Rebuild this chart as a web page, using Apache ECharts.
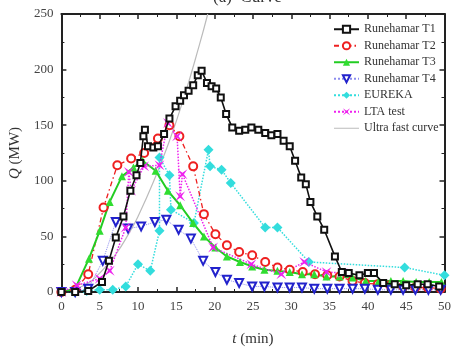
<!DOCTYPE html>
<html><head><meta charset="utf-8">
<script src="https://cdn.jsdelivr.net/npm/echarts@6/dist/echarts.min.js"></script>
<style>html,body{margin:0;padding:0;background:#fff}#c{width:454px;height:352px}</style>
</head><body><div id="c"></div>
<script>
// ---- data ----
var xTicks = [0,5,10,15,20,25,30,35,40,45,50];
var yTicks = [0,50,100,150,200,250];

var t1T = [0,1.8,3.5,5.3,6.2,7.1,8.1,9,9.8,10.3,10.7,10.9,11.3,12,12.6,13.4,14.1,14.9,15.5,16,16.6,17.2,17.8,18.3,19,19.6,20.2,20.8,21.5,22.3,23.2,24,24.8,25.7,26.6,27.4,28.2,29,29.8,30.5,31.3,31.9,32.5,33.4,34.3,35.7,36.6,37.5,38.9,40,40.8,42,43.5,45,46.5,47.8,49.3];
var t1Q = [0,0,1,9,28,49,68,91,105,116,140,146,131,130,131,142,156,167,172,177,181,186,195,199,188,185,183,175,160,148,145,146,148,146,143,141,142,136,131,118,103,97,81,68,56,32,18,17,15,17,17,8,7,6,7,7,5];

var t2T = [0,1.8,3.5,5.5,7.3,9.1,10.8,12.6,14.1,15.4,17.2,18.6,20.1,21.6,23.2,24.9,26.6,28.2,29.8,31.5,33.1,34.7,36.3,38,39.6,41.3,42.9,44.6,46.2,47.8,49.5];
var t2Q = [0,2,16,76,114,120,125,138,150,140,113,70,52,42,36,33,27,22,20,18,16,15,14,10,8,7,6,5,4,4,3];

var t3T = [0,1.8,3.6,5,6.3,7.9,9.4,10.6,12.3,13.9,15.5,17.2,18.6,20.1,21.6,23.3,24.9,26.5,28.2,29.8,31.4,33,34.6,36.3,38,39.7,41.4,43,44.6,46.3,48,49.6];
var t3Q = [0,3,30,55,81,104,112,118,109,91,78,62,50,40,32,27,23,20,19,18,16,16,14,14,13,10,10,10,10,9,9,9];

var t4T = [0,1.8,3.5,5.4,7.1,8.7,10.4,12.2,13.7,15.3,16.9,18.5,20.1,21.6,23.2,24.9,26.5,28.2,29.8,31.4,33,34.7,36.3,38,39.6,41.3,43,44.6,46.2,47.9,49.5];
var t4Q = [0,0,3,28,63,57,59,63,65,56,48,28,18,11,8,5,5,4,4,4,3,3,3,3,3,2,2,2,2,2,2];

var euT = [0,1.7,3.3,5,6.7,8.4,10,11.6,12.8,12.8,14.1,14.3,17.3,19.2,19.4,20.9,22.1,26.6,28.2,32.3,44.8,50];
var euQ = [0,0,1,2,2,5,25,19,55,121,105,74,62,128,113,110,98,58,58,27,22,15];

var ltT = [0,2,5,6.3,8.4,8.8,9.1,10.8,12.8,13.9,15.1,15.5,15.8,19.8,24.8,28.7,31.7,34.6,36.7];
var ltQ = [0,6,12,19,58,108,91,113,114,152,140,86,106,40,25,16,27,18,17];

var ufT = [0,3,5,7,9,10,12,14,16,18,19.1];
var ufQ = [0,6,17,33,55,68,99,134,175,222,250];

var names = ['Runehamar T1','Runehamar T2','Runehamar T3','Runehamar T4','EUREKA','LTA test','Ultra fast curve'];

function pairs(a,b){ return a.map(function(v,i){return [v,b[i]];}); }

var FONT = '"Liberation Serif","DejaVu Serif",serif';
var xMarkPath = 'path://M0,0 L5,3.5 L10,0 L6.5,5 L10,10 L5,6.5 L0,10 L3.5,5 Z';

var chart = echarts.init(document.getElementById('c'), null, {renderer:'canvas'});
function axisCommon(){ return {
  axisLine:{show:true, onZero:false, lineStyle:{color:'#222', width:2}},
  axisTick:{show:true, inside:true, length:5, lineStyle:{color:'#222', width:1.5}},
  minorTick:{show:true, splitNumber:2, length:3, lineStyle:{color:'#222'}},
  splitLine:{show:false}
};}
chart.setOption({
  animation:false,
  backgroundColor:'#fff',
  graphic:[{type:'text', left:213, top:-11, style:{text:'(a)  Curve', font:'17px '+FONT, fill:'#333'}}],
  grid:{left:61, right:3, top:14, bottom:48},
  legend:{
    orient:'vertical', left:328, top:18, itemWidth:25, itemHeight:9, itemGap:4,
    data:names.slice(0,6).concat([{name:names[6], icon:'path://M0,0L50,0L50,2L0,2Z'}]),
    textStyle:{fontFamily:FONT, fontSize:12, color:'#333', lineHeight:12.5}
  },
  xAxis:[
    Object.assign({type:'value', min:0, max:50, interval:5, position:'bottom',
      name:'{i|t} (min)', nameLocation:'middle', nameGap:40,
      nameTextStyle:{fontFamily:FONT, fontSize:15, color:'#333', rich:{i:{fontStyle:'italic', fontFamily:FONT, fontSize:15, color:'#333'}}},
      axisLabel:{fontFamily:FONT, fontSize:13, color:'#444', margin:8}}, axisCommon()),
    Object.assign({type:'value', min:0, max:50, interval:5, position:'top', axisLabel:{show:false}}, axisCommon())
  ],
  yAxis:[
    Object.assign({type:'value', min:0, max:250, interval:50, position:'left',
      name:'{i|Q} (MW)', nameLocation:'middle', nameGap:35, nameRotate:90,
      nameTextStyle:{fontFamily:FONT, fontSize:15, color:'#333', rich:{i:{fontStyle:'italic', fontFamily:FONT, fontSize:15, color:'#333'}}},
      axisLabel:{fontFamily:FONT, fontSize:13, color:'#444', margin:8}}, axisCommon()),
    Object.assign({type:'value', min:0, max:250, interval:50, position:'right', axisLabel:{show:false}}, axisCommon())
  ],
  series:[
    {name:names[0], type:'line', data:pairs(t1T,t1Q), symbol:'emptyRect', symbolSize:6,
      itemStyle:{color:'#111', borderWidth:1.5}, lineStyle:{color:'#111', width:1.6}, z:5},
    {name:names[1], type:'line', data:pairs(t2T,t2Q), symbol:'emptyCircle', symbolSize:8,
      itemStyle:{color:'#ee2020', borderWidth:1.8}, lineStyle:{color:'#ee2020', width:1.3, type:[5,3,1.5,3]}, z:4},
    {name:names[2], type:'line', data:pairs(t3T,t3Q), symbol:'triangle', symbolSize:8,
      itemStyle:{color:'#30dd30'}, lineStyle:{color:'#22cc22', width:2}, z:4},
    {name:names[3], type:'line', data:pairs(t4T,t4Q), symbol:'emptyTriangle', symbolRotate:180, symbolSize:8,
      itemStyle:{color:'#2222cc', borderWidth:1.6}, lineStyle:{color:'#8c8cee', width:1, type:'dotted'}, z:4},
    {name:names[4], type:'line', data:pairs(euT,euQ), symbol:'diamond', symbolSize:10,
      itemStyle:{color:'#33dddd'}, lineStyle:{color:'#33dddd', width:1.5, type:'dotted'}, z:3},
    {name:names[5], type:'line', data:pairs(ltT,ltQ), symbol:xMarkPath, symbolSize:10,
      itemStyle:{color:'#ee22ee'}, lineStyle:{color:'#ee22ee', width:1.5, type:'dotted'}, z:4},
    {name:names[6], type:'line', data:pairs(ufT,ufQ), symbol:'none', smooth:true,
      itemStyle:{color:'#bbbbbb'}, lineStyle:{color:'#bbbbbb', width:1.2}, z:2, clip:true}
  ]
});
</script></body></html>
